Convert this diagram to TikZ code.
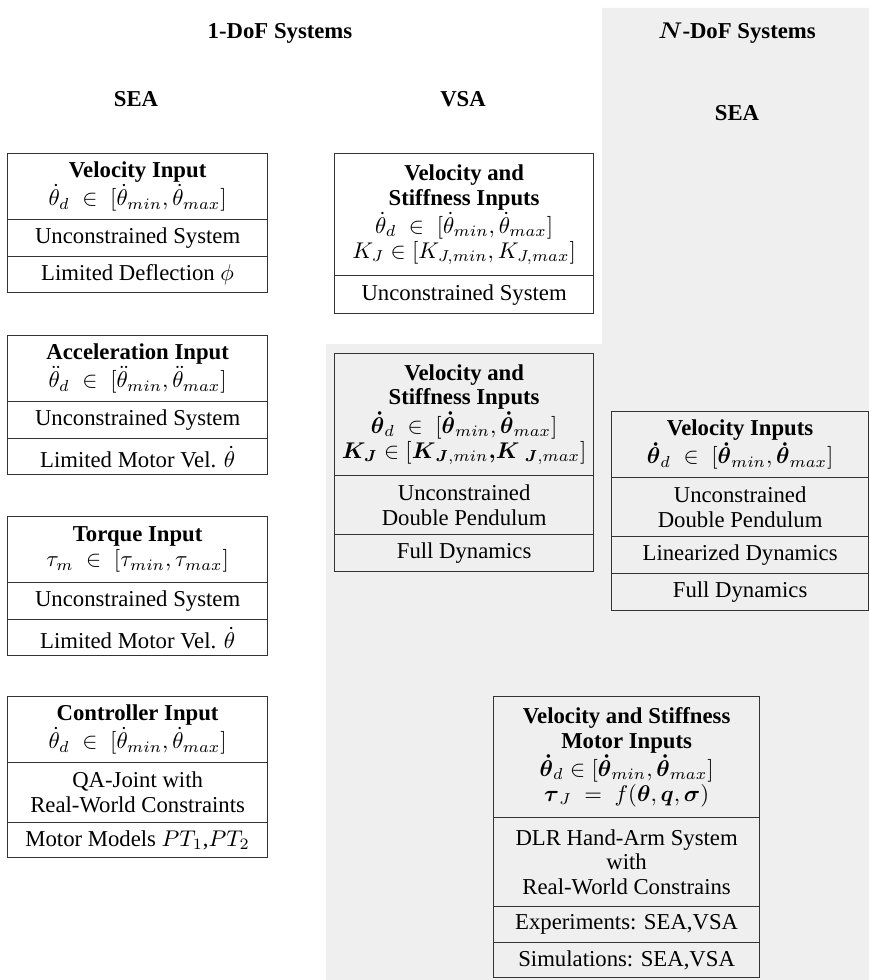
\documentclass[tikz,border=0pt]{standalone}
\usepackage{amsmath}
\usepackage[no-math]{fontspec}
\setmainfont{Liberation Serif}
\newlength{\px}\setlength{\px}{0.44pt}
\definecolor{panelgray}{HTML}{EFEFEF}
\definecolor{edge}{HTML}{333333}
% one table cell: name, left, top, width, height, text (pixel units)
\newcommand\cellat[6]{\node[cell, minimum width=#4\px, minimum height=#5\px] (#1) at (#2,#3) {#6};}
\begin{document}
\begin{tikzpicture}[x=0.44pt,y=-0.44pt,
  cell/.style={draw=edge, line width=0.55pt, anchor=north west, inner sep=0pt,
    align=center, font=\fontsize{10}{10.9}\selectfont},
  heading/.style={font=\fontsize{10}{12}\selectfont\bfseries, inner sep=0pt}]
\useasboundingbox (0,0) rectangle (869,980);

% shaded panel behind the N-DoF column and the lower VSA area
\fill[panelgray] (602,8) -- (869,8) -- (869,980) -- (326,980) -- (326,344) -- (602,344) -- cycle;

% headings
\node[heading] (h1dof) at (280,33) {1-DoF Systems};
\node[heading] (hndof) at (737,33) {$\boldsymbol{N}$-DoF Systems};
\node[heading] (hsea1) at (136,99) {SEA};
\node[heading] (hvsa1) at (463,99) {VSA};
\node[heading] (hsean) at (737,113) {SEA};

% 1-DoF SEA: velocity input
\cellat{va}{7}{153}{260}{66}{\textbf{Velocity Input}\\ $\dot\theta_d\;\in\;[\dot\theta_{min},\dot\theta_{max}]$}
\cellat{vb}{7}{219}{260}{37}{Unconstrained System}
\cellat{vc}{7}{256}{260}{36}{Limited Deflection $\phi$}

% 1-DoF SEA: acceleration input
\cellat{aa}{7}{335}{260}{66}{\textbf{Acceleration Input}\\ $\ddot\theta_d\;\in\;[\ddot\theta_{min},\ddot\theta_{max}]$}
\cellat{ab}{7}{401}{260}{37}{Unconstrained System}
\cellat{ac}{7}{438}{260}{36}{Limited Motor Vel. $\dot\theta$}

% 1-DoF SEA: torque input
\cellat{ta}{7}{516}{260}{66}{\textbf{Torque Input}\\ $\tau_m\;\in\;[\tau_{min},\tau_{max}]$}
\cellat{tb}{7}{582}{260}{37}{Unconstrained System}
\cellat{tc}{7}{619}{260}{36}{Limited Motor Vel. $\dot\theta$}

% 1-DoF SEA: controller input
\cellat{ca}{7}{696}{260}{66}{\textbf{Controller Input}\\ $\dot\theta_d\;\in\;[\dot\theta_{min},\dot\theta_{max}]$}
\cellat{cb}{7}{762}{260}{60}{QA-Joint with\\ Real-World Constraints}
\cellat{cc}{7}{822}{260}{35}{Motor Models $PT_1$,$PT_2$}

% 1-DoF VSA
\cellat{sa}{334}{153}{259}{122}{\textbf{Velocity and}\\ \textbf{Stiffness Inputs}\\ $\dot\theta_d\;\in\;[\dot\theta_{min},\dot\theta_{max}]$\\ $K_J\in[K_{J,min},K_{J,max}]$}
\cellat{sb}{334}{275}{259}{38}{Unconstrained System}

% N-DoF VSA
\cellat{na}{334}{353}{259}{122}{\textbf{Velocity and}\\ \textbf{Stiffness Inputs}\\ $\boldsymbol{\dot\theta}_d\;\in\;[\boldsymbol{\dot\theta}_{min},\boldsymbol{\dot\theta}_{max}]$\\ $\boldsymbol{K_J}\in[\boldsymbol{K}_{\boldsymbol{J},min}\boldsymbol{,}\boldsymbol{K}_{\;\boldsymbol{J},max}]$}
\cellat{nb}{334}{475}{259}{59}{Unconstrained\\ Double Pendulum}
\cellat{nc}{334}{534}{259}{37}{Full Dynamics}

% N-DoF SEA
\cellat{ea}{611}{411}{257}{66}{\textbf{Velocity Inputs}\\ $\boldsymbol{\dot\theta}_d\;\in\;[\boldsymbol{\dot\theta}_{min},\boldsymbol{\dot\theta}_{max}]$}
\cellat{eb}{611}{477}{257}{59}{Unconstrained\\ Double Pendulum}
\cellat{ec}{611}{536}{257}{37}{Linearized Dynamics}
\cellat{ed}{611}{573}{257}{37}{Full Dynamics}

% hand-arm system
\cellat{da}{493}{696}{266}{121}{\textbf{Velocity and Stiffness}\\ \textbf{Motor Inputs}\\ $\boldsymbol{\dot\theta}_d\in[\boldsymbol{\dot\theta}_{min},\boldsymbol{\dot\theta}_{max}]$\\ $\boldsymbol{\tau}_J\;=\;f(\boldsymbol{\theta},\boldsymbol{q},\boldsymbol{\sigma})$}
\cellat{db}{493}{817}{266}{89}{DLR Hand-Arm System\\ with\\ Real-World Constrains}
\cellat{dc}{493}{906}{266}{36}{Experiments: SEA,VSA}
\cellat{dd}{493}{942}{266}{35}{Simulations: SEA,VSA}
\end{tikzpicture}
\end{document}
